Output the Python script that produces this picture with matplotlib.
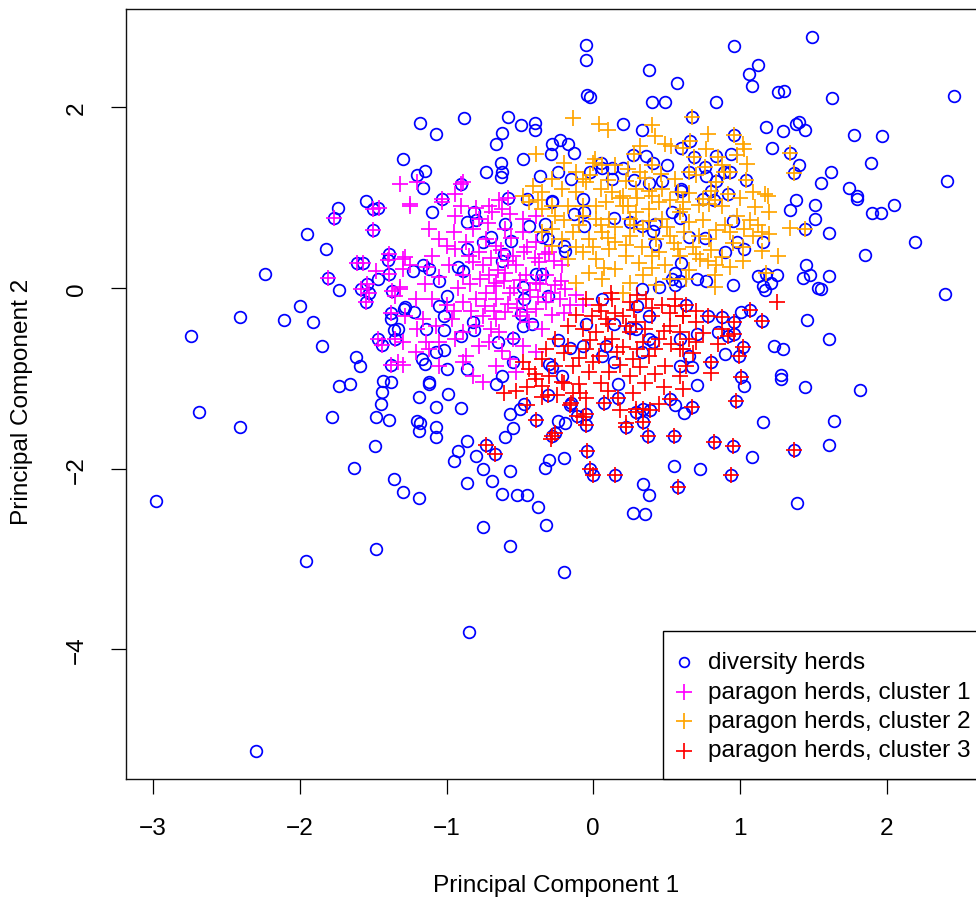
import matplotlib
matplotlib.use("Agg")
import matplotlib.pyplot as plt
from matplotlib.lines import Line2D
from matplotlib.patches import Rectangle

plt.rcParams['font.family'] = ['Liberation Sans', 'DejaVu Sans']

# ---- diversity herds (PC1, PC2) ----
div_pts = [
    (-0.05,2.69),(-0.05,2.53),(1.49,2.78),(0.96,2.68),(0.38,2.42),(1.12,2.47),(1.06,2.37),(1.08,2.24),
    (0.57,2.27),(1.26,2.17),(1.30,2.18),(1.63,2.10),(2.46,2.13),(-0.04,2.14),(-0.02,2.11),(0.40,2.06),
    (0.49,2.06),(0.84,2.06),(-1.18,1.83),(-1.07,1.71),(-0.88,1.88),(-0.58,1.89),(-0.62,1.72),(-0.49,1.81),
    (-0.40,1.83),(-0.40,1.75),(-0.66,1.59),(0.20,1.82),(0.33,1.75),(-0.28,1.59),(-0.23,1.64),(-0.17,1.59),
    (-0.13,1.50),(-0.29,1.48),(-0.48,1.43),(-0.63,1.38),(-0.62,1.29),(-0.63,1.23),(-0.73,1.28),(-0.36,1.24),
    (-0.24,1.28),(-1.30,1.43),(-1.20,1.25),(-1.15,1.30),(-1.16,1.11),(-0.90,1.15),(-1.03,0.99),(-0.58,1.00),
    (-0.45,0.99),(-0.28,0.96),(-0.15,1.21),(-0.02,1.29),(0.05,1.38),(0.06,1.33),(0.13,1.33),(0.13,1.21),
    (0.20,1.33),(0.27,1.47),(0.36,1.46),(0.41,1.38),(0.50,1.36),(0.28,1.20),(0.38,1.16),(0.47,1.19),
    (0.60,1.55),(0.60,1.07),(-0.07,0.99),
    (-1.74,0.89),(-1.55,0.96),(-1.47,0.89),(-1.77,0.77),(-1.50,0.87),(-1.95,0.60),(-1.50,0.64),(-1.82,0.43),
    (-2.24,0.15),(-1.81,0.11),(-1.73,-0.02),(-1.61,0.28),(-1.57,0.28),(-1.39,0.38),(-1.40,0.31),(-1.47,0.10),
    (-1.54,0.04),(-1.58,-0.01),(-1.53,-0.05),(-1.55,-0.16),(-1.39,0.15),(-1.37,-0.03),(-2.00,-0.20),
    (-2.41,-0.32),(-2.11,-0.35),(-1.91,-0.38),(-2.74,-0.53),(-1.85,-0.64),(-1.38,-0.28),(-1.38,-0.34),
    (-1.36,-0.46),(-1.47,-0.56),(-1.44,-0.63),(-1.35,-0.56),(-1.29,-0.23),(-1.62,-0.76),(-1.59,-0.86),
    (-1.38,-0.85),(-1.73,-1.08),(-1.66,-1.06),(-1.43,-1.03),(-1.38,-1.04),(-1.44,-1.15),(-1.45,-1.28),
    (-2.69,-1.37),(-2.41,-1.54),(-1.78,-1.43),(-1.48,-1.43),(-1.39,-1.46),(-1.49,-1.75),(-1.63,-1.99),
    (-1.36,-2.12),(-1.30,-2.26),(-2.98,-2.36),(-1.48,-2.89),(-1.96,-3.02),(-0.20,-3.14),(-0.85,-3.81),
    (-2.30,-5.13),
    (-1.12,-1.06),(-1.19,-1.21),(-0.99,-1.17),(-1.07,-1.32),(-0.90,-1.33),(-1.20,-1.47),(-1.18,-1.49),
    (-1.19,-1.58),(-1.07,-1.54),(-1.07,-1.65),(-0.57,-1.39),(-0.55,-1.55),(-0.60,-1.65),(-0.86,-1.69),
    (-0.92,-1.81),(-0.95,-1.92),(-0.80,-1.86),(-0.75,-2.00),(-0.57,-2.03),(-0.86,-2.16),(-0.69,-2.14),
    (-0.62,-2.28),(-0.52,-2.29),(-0.45,-2.29),(-0.38,-2.42),(-1.19,-2.33),(-0.75,-2.65),(-0.32,-2.62),
    (-0.57,-2.86),(-0.30,-1.90),(-0.33,-1.99),(-0.20,-1.88),(-0.24,-1.47),(-0.19,-1.50),(-0.47,-1.28),
    (-0.50,-1.34),(0.55,-1.97),(0.34,-2.17),(0.38,-2.29),(0.27,-2.49),(0.35,-2.50),
    (0.71,-1.07),(1.03,-1.09),(1.28,-1.01),(1.44,-1.10),(1.82,-1.13),(0.56,-1.30),(0.62,-1.38),(1.16,-1.48),
    (1.64,-1.47),(1.61,-1.74),(1.08,-1.87),(0.73,-2.00),(1.39,-2.38),
    (1.38,0.97),(1.51,0.92),(1.80,0.99),(1.90,0.83),(1.96,0.83),(2.05,0.92),(1.34,0.86),(1.51,0.76),
    (1.61,0.61),(2.19,0.51),(1.85,0.37),(1.45,0.26),(1.43,0.11),(1.48,0.14),(1.61,0.13),(1.53,0.00),
    (1.55,-0.01),(2.40,-0.07),(1.46,-0.35),(1.61,-0.56),(1.23,-0.64),(1.29,-0.67),(1.28,-0.96),(0.65,0.57),
    (0.76,0.55),(0.95,0.74),(0.98,0.51),(1.03,0.43),(0.90,0.40),(1.16,0.51),(1.12,0.13),(1.18,0.15),
    (1.25,0.14),(1.16,0.02),(1.17,-0.02),(1.21,0.06),(0.95,0.03),(0.71,0.10),(0.77,0.08),(0.60,0.28),
    (0.56,0.03),(1.01,-0.27),(0.85,-0.49),(0.90,-0.73),(0.65,-0.75),(0.67,-0.88),(0.71,-0.51),(1.44,0.65),
    (0.67,1.89),(0.66,1.63),(0.96,1.69),(0.69,1.45),(0.84,1.46),(0.94,1.48),(0.76,1.34),(0.89,1.28),
    (0.93,1.28),(0.65,1.29),(0.77,1.24),(1.04,1.20),(0.84,1.19),(0.60,1.10),(0.80,1.08),(0.92,1.04),
    (0.75,0.99),(0.82,0.97),(1.18,1.78),(1.29,1.74),(1.38,1.82),(1.40,1.84),(1.44,1.75),(1.78,1.69),
    (1.97,1.68),(1.22,1.55),(1.34,1.50),(1.40,1.36),(1.37,1.27),(1.62,1.28),(1.89,1.39),(2.41,1.19),
    (1.55,1.16),(1.74,1.11),(1.80,1.02),
    (-1.10,0.84),(-0.81,0.84),(-0.86,0.73),(-0.80,0.75),(-0.70,0.56),(-0.75,0.51),(-0.60,0.71),(-0.44,0.69),
    (-0.56,0.52),(-0.86,0.43),(-1.23,0.19),(-1.16,0.25),(-1.12,0.21),(-1.05,0.08),(-0.92,0.23),(-0.89,0.19),
    (-0.61,0.38),(-0.62,0.30),(-0.39,0.16),(-0.35,0.16),(-0.48,0.01),(-0.47,-0.12),(-0.31,-0.09),
    (-1.00,-0.09),(-1.05,-0.20),(-1.02,-0.31),(-1.28,-0.21),(-1.22,-0.27),(-1.33,-0.45),(-1.14,-0.45),
    (-1.02,-0.47),(-0.82,-0.38),(-0.81,-0.47),(-0.90,-0.53),(-0.65,-0.60),(-0.55,-0.55),(-0.49,-0.29),
    (-0.42,-0.40),(-0.48,-0.42),(-1.17,-0.79),(-1.15,-0.84),(-1.07,-0.71),(-1.02,-0.69),(-1.00,-0.90),
    (-0.86,-0.90),(-1.12,-1.04),(-0.62,-0.97),(-0.66,-1.06),(-0.55,-0.82),(-0.24,-0.58),(-0.16,-0.66),
    (-0.07,-0.64),(-0.30,-0.84),(-0.28,-0.88),(-0.21,-0.97),(-0.05,-0.40),(0.06,-0.12),(0.14,-0.40),
    (0.09,-0.64),(0.06,-0.75),(0.14,-0.82),(0.17,-1.06),(0.30,-0.20),(0.38,-0.31),(0.25,-0.44),(0.29,-0.45),
    (0.38,-0.56),(0.41,-0.60),(0.33,-0.71),(0.59,-0.56),(0.59,-0.86),(-0.06,0.84),(-0.13,0.82),(-0.06,0.69),
    (-0.33,0.71),(-0.28,0.95),(0.25,0.73),(0.33,0.69),(0.41,0.63),(0.42,0.71),(0.42,0.49),(0.54,0.84),
    (0.59,0.78),(0.56,0.17),(0.54,0.10),(0.59,0.08),(0.33,-0.01),(0.45,0.01),(0.14,0.78),(-0.20,0.47),
    (-0.19,0.41),(-0.35,0.56),(-0.31,0.54),
    (-0.73,-1.74),(-0.67,-1.84),(-0.39,-1.46),(-0.26,-1.60),(-0.28,-1.64),(-0.04,-1.81),(-0.02,-2.00),
    (0.00,-2.07),(0.15,-2.07),(-0.05,-1.52),(-0.05,-1.39),(-0.11,-1.42),(-0.15,-1.27),(-0.16,-1.30),
    (-0.31,-1.19),(0.07,-1.27),(0.17,-1.22),(0.22,-1.54),(0.29,-1.37),(0.34,-1.34),(0.39,-1.35),(0.34,-1.48),
    (0.37,-1.64),(0.55,-1.64),(0.52,-1.23),(0.58,-2.20),(0.97,-1.25),(0.82,-1.70),(0.95,-1.75),(1.37,-1.79),
    (0.94,-2.07),(0.67,-1.32),(0.63,-0.19),(0.78,-0.31),(0.88,-0.32),(0.96,-0.38),(1.07,-0.24),(1.15,-0.36),
    (0.92,-0.53),(0.96,-0.51),(1.02,-0.65),(0.99,-0.75),(0.80,-0.82),(1.01,-0.99),
]

# ---- paragon herds, cluster 1 ----
c1_pts = [
    (-1.32,1.15),(-1.46,0.89),(-1.77,0.77),(-1.50,0.87),(-1.50,0.64),(-1.81,0.11),(-1.61,0.28),(-1.57,0.28),
    (-1.39,0.38),(-1.40,0.31),(-1.54,0.04),(-1.58,-0.01),(-1.53,-0.05),(-1.55,-0.16),(-1.39,0.15),
    (-1.37,-0.03),(-1.32,0.01),(-1.35,-0.09),(-1.48,0.19),(-1.30,0.32),(-1.30,0.21),(-1.38,-0.28),
    (-1.47,-0.56),(-1.44,-0.63),(-1.35,-0.56),(-1.38,-0.85),(-1.30,-0.85),(-0.90,1.15),(-1.03,0.99),
    (-0.58,1.00),(-1.20,1.17),(-0.89,1.17),(-0.94,1.04),(-1.25,0.93),(-0.71,0.91),
    (-1.25,0.91),(-1.03,0.95),(-0.94,0.80),(-0.82,0.65),(-0.78,0.76),(-0.69,0.84),(-0.60,0.65),(-0.48,0.62),
    (-0.39,0.51),(-0.30,0.40),(-1.05,0.54),(-1.00,0.47),(-0.94,0.43),(-1.12,0.65),(-1.28,0.34),(-1.25,0.25),
    (-1.13,0.23),(-1.05,0.12),(-0.98,0.25),(-0.89,0.14),(-0.82,0.29),(-0.75,0.25),(-0.71,0.14),(-0.66,0.06),
    (-0.60,0.17),(-0.53,0.25),(-0.46,0.14),(-0.39,0.06),(-0.32,0.14),(-0.26,0.03),(-0.19,-0.01),
    (-0.12,-0.08),(-0.07,-0.19),(-1.32,-0.01),(-1.21,-0.12),(-1.10,-0.12),(-1.00,-0.19),(-0.89,-0.16),
    (-0.80,-0.12),(-0.73,-0.05),(-0.66,-0.12),(-0.57,-0.05),(-0.48,-0.12),(-0.39,-0.23),(-0.32,-0.16),
    (-0.23,-0.12),(-0.16,-0.19),(-1.28,-0.31),(-1.16,-0.34),(-1.07,-0.42),(-0.96,-0.34),(-0.89,-0.49),
    (-0.80,-0.42),(-0.75,-0.31),(-0.66,-0.34),(-0.60,-0.27),(-0.50,-0.31),(-0.44,-0.38),(-0.35,-0.45),
    (-1.30,-0.60),(-1.21,-0.71),(-1.12,-0.67),(-1.05,-0.60),(-0.94,-0.56),(-0.87,-0.75),(-0.78,-0.64),
    (-0.71,-0.60),(-0.64,-0.49),(-0.55,-0.56),(-0.48,-0.64),(-0.39,-0.71),(-0.89,-0.82),(-0.82,-0.97),
    (-0.75,-1.04),(-0.66,-0.86),(-0.57,-0.79),(-0.53,-0.93),(-1.05,-0.86),(-1.33,-0.82),(-1.14,-0.60),
    (-0.90,0.91),(-0.80,0.89),(-0.64,0.97),(-0.57,0.82),(-0.66,0.47),(-0.73,0.54),(-0.87,0.51),
    (-0.39,0.80),(-0.48,0.76),(-0.21,0.25),(-0.37,0.29),
    (-0.85,0.35),(-0.78,0.40),(-0.70,0.33),(-0.63,0.42),(-0.55,0.35),(-0.47,0.40),(-0.40,0.33),(-0.33,0.38),
    (-0.27,0.30),(-0.84,0.05),(-0.77,0.10),(-0.68,0.02),(-0.61,0.08),(-0.54,0.00),(-0.50,0.09),(-0.43,-0.02),
    (-0.36,0.04),(-0.29,-0.06),(-0.22,0.08),(-0.83,-0.25),(-0.74,-0.20),(-0.68,-0.25),(-0.58,-0.18),
    (-0.52,-0.22),(-0.45,-0.27),(-0.38,-0.10),(-0.28,-0.30),(-0.20,-0.28),(-0.92,0.00),(-0.95,-0.25),
    (-1.15,0.05),(-1.20,-0.45),(-1.10,0.35),(-0.65,0.20),(-0.58,0.30),(-0.70,-0.45),(-0.62,-0.70),
    (-0.56,0.55),(-0.45,0.45),(-0.95,0.62),(-0.72,0.72),(-0.62,0.88),
]

# ---- paragon herds, cluster 2 ----
c2_pts = [
    (-0.14,1.88),(0.04,1.82),(0.10,1.75),(0.40,1.81),(0.42,1.68),(0.32,1.57),(0.49,1.60),(0.53,1.57),
    (-0.39,1.48),(-0.20,1.39),(0.01,1.43),(0.28,1.48),(0.00,1.39),(0.06,1.36),(0.15,1.36),(0.24,1.32),
    (0.32,1.28),(0.40,1.36),(-0.12,1.28),(-0.07,1.21),(-0.02,1.25),(-0.28,1.21),(-0.41,1.13),(-0.35,1.06),
    (-0.21,1.10),(-0.12,1.06),(-0.05,1.17),(0.05,1.10),(0.13,1.06),(0.20,1.02),(0.29,1.10),(0.38,1.08),
    (0.47,1.10),(0.58,1.06),(0.56,1.21),(-0.48,1.02),(-0.38,0.97),(-0.28,0.91),(-0.07,0.91),(0.09,0.95),
    (0.24,0.91),(0.45,0.95),
    (0.67,1.89),(0.78,1.71),(0.96,1.69),(0.66,1.63),(0.61,1.55),(0.77,1.54),(1.02,1.60),(1.03,1.54),
    (0.69,1.45),(0.98,1.47),(1.05,1.37),(0.76,1.34),(0.88,1.36),(0.89,1.28),(0.93,1.28),(0.65,1.29),
    (1.04,1.20),(0.80,1.08),(0.92,1.04),(1.09,1.06),(1.17,1.04),(1.19,1.02),(0.75,0.99),(0.83,0.97),
    (0.61,0.95),(1.34,1.50),(1.37,1.27),(0.84,1.17),(0.70,1.25),
    (1.20,0.84),(1.07,0.75),(1.03,0.65),(1.34,0.67),(1.26,0.36),(1.44,0.65),(1.15,0.62),(1.20,0.60),
    (0.93,0.23),(0.84,0.25),(1.02,0.30),(0.73,0.32),(0.78,0.30),(0.63,0.10),(0.83,0.14),(0.79,0.93),
    (0.88,0.91),(0.61,0.87),(0.65,0.73),(0.84,0.64),(0.79,0.54),(0.93,0.62),(1.02,0.45),(1.09,0.58),
    (1.18,0.17),(0.83,0.01),(0.58,0.43),(0.70,0.38),(0.88,0.34),(1.15,0.41),
    (-0.44,0.95),(-0.35,0.88),(-0.26,0.80),(-0.17,0.91),(-0.07,0.80),(0.02,0.91),(0.11,0.76),(0.20,0.91),
    (0.29,0.84),(0.38,0.88),(0.47,0.76),(0.59,0.84),(-0.28,0.65),(-0.21,0.54),(-0.14,0.62),(-0.03,0.54),
    (0.06,0.62),(0.15,0.51),(0.25,0.58),(0.34,0.65),(0.43,0.54),(0.52,0.58),(-0.07,0.40),(0.02,0.32),
    (0.11,0.43),(0.22,0.36),(0.31,0.28),(0.40,0.36),(0.49,0.25),(0.59,0.36),(-0.03,0.17),(0.06,0.10),
    (0.15,0.21),(0.25,0.06),(0.34,0.14),(0.43,0.03),(0.52,0.10),(-0.12,0.06),(0.20,-0.05),(-0.28,0.47),
    (-0.17,0.32),(0.02,0.76),(0.25,0.76),
    (0.10,1.20),(0.22,1.18),(0.35,1.22),(0.46,1.26),(0.18,1.00),(0.30,1.00),(0.40,1.02),(0.52,0.98),
    (0.65,1.05),(0.72,0.92),(0.05,0.70),(0.15,0.68),(0.28,0.70),(0.38,0.74),(0.50,0.68),(0.62,0.62),
    (0.72,0.58),(0.90,0.70),(0.98,0.80),(1.10,0.90),(0.00,0.45),(0.10,0.55),(0.22,0.48),(0.33,0.45),
    (0.45,0.40),(0.55,0.50),(0.68,0.45),(0.80,0.42),(0.95,0.50),(1.12,0.70),(-0.10,0.70),(-0.20,0.75),
    (-0.35,0.62),(-0.12,0.45),(0.07,0.22),(0.40,0.22),(0.65,0.20),(0.75,0.75),(1.00,1.00),(0.85,1.45),
]

# ---- paragon herds, cluster 3 ----
c3_pts = [
    (-0.73,-1.74),(-0.67,-1.84),(-0.39,-1.46),(-0.26,-1.60),(-0.28,-1.64),(-0.04,-1.81),(-0.02,-2.00),
    (0.00,-2.07),(0.15,-2.07),(-0.05,-1.52),(-0.05,-1.39),(-0.11,-1.42),(-0.15,-1.27),(-0.16,-1.30),
    (-0.31,-1.19),(0.07,-1.27),(0.17,-1.22),(0.22,-1.54),(0.29,-1.37),(0.34,-1.34),(0.39,-1.35),(0.34,-1.48),
    (0.37,-1.64),(0.55,-1.64),(0.52,-1.23),(0.58,-2.20),(0.97,-1.25),(0.82,-1.70),(0.95,-1.75),(1.37,-1.79),
    (0.94,-2.07),(0.67,-1.32),(0.63,-0.19),(0.78,-0.31),(0.88,-0.32),(0.96,-0.38),(1.07,-0.24),(1.15,-0.36),
    (0.92,-0.53),(0.96,-0.51),(1.02,-0.65),(0.99,-0.75),(0.80,-0.82),(1.01,-0.99),
    (1.25,-0.15),(0.80,-0.94),
    (-0.61,-1.16),(-0.53,-1.14),(-0.45,-1.10),(-0.35,-1.08),(-0.35,-1.21),(-0.20,-1.05),(-0.14,-1.16),
    (-0.09,-1.16),(0.10,-1.14),(0.27,-1.16),(0.61,-1.12),(-0.29,-1.67),(0.22,-1.49),(-0.07,-1.43),
    (-0.45,-1.30),(0.29,-1.34),
    (-0.05,-0.12),(0.04,-0.19),(0.13,-0.12),(0.25,-0.16),(0.36,-0.12),(0.47,-0.19),(0.56,-0.12),(0.61,-0.31),
    (-0.01,-0.31),(0.09,-0.34),(0.20,-0.31),(0.29,-0.38),(0.40,-0.31),(0.52,-0.42),(-0.07,-0.45),(0.02,-0.49),
    (0.13,-0.56),(0.25,-0.49),(0.34,-0.60),(0.45,-0.56),(0.59,-0.68),(-0.17,-0.42),(-0.26,-0.56),(-0.17,-0.64),
    (-0.05,-0.68),(0.04,-0.75),(0.16,-0.71),(0.27,-0.79),(0.38,-0.75),(0.49,-0.86),(-0.35,-0.79),(-0.26,-0.86),
    (-0.14,-0.86),(-0.03,-0.93),(0.11,-0.93),(0.25,-0.97),(-0.44,-0.90),(-0.39,-1.01),(-0.30,-0.97),
    (-0.21,-1.04),(-0.10,-1.06),(0.59,-0.97),(-0.48,-0.82),
    (0.56,-0.20),(0.61,-0.31),(0.70,-0.38),(0.59,-0.49),(0.65,-0.56),(0.61,-0.68),(0.63,-0.86),(0.70,-0.60),
    (0.05,-0.25),(0.15,-0.28),(0.28,-0.24),(0.40,-0.22),(0.52,-0.28),(0.10,-0.40),(0.22,-0.42),(0.35,-0.45),
    (0.48,-0.48),(-0.12,-0.30),(-0.02,-0.58),(0.08,-0.62),(0.20,-0.65),(0.30,-0.68),(0.42,-0.68),(0.53,-0.62),
    (-0.10,-0.78),(0.00,-0.82),(0.18,-0.85),(0.32,-0.88),(0.42,-0.95),(-0.20,-0.72),(-0.32,-0.68),
    (-0.40,-0.95),(-0.25,-1.18),(0.05,-1.05),(0.35,-1.05),(0.48,-1.10),(0.70,-0.25),(0.75,-0.50),
    (0.68,-0.72),(0.85,-0.62),(0.88,-0.45),(0.18,-1.35),(-0.05,-1.22),(0.45,-1.28),(0.12,-0.05),(0.30,-0.08),
]

div_x = [p[0] for p in div_pts]
div_y = [p[1] for p in div_pts]
c1_x = [p[0] for p in c1_pts]
c1_y = [p[1] for p in c1_pts]
c2_x = [p[0] for p in c2_pts]
c2_y = [p[1] for p in c2_pts]
c3_x = [p[0] for p in c3_pts]
c3_y = [p[1] for p in c3_pts]

x_ticks = [-3, -2, -1, 0, 1, 2]
y_ticks = [-4, -2, 0, 2]
legend_labels = ["diversity herds", "paragon herds, cluster 1",
                 "paragon herds, cluster 2", "paragon herds, cluster 3"]

BLUE, MAGENTA, ORANGE, RED = "#0000FF", "#FF00FF", "#FFA500", "#FF0000"
FS = 17.6
W, H = 976, 903

fig = plt.figure(figsize=(W / 100, H / 100), dpi=100)
ax = fig.add_axes([126 / W, 123 / H, 860 / W, 770 / H])

circle_kw = dict(linestyle="none", marker="o", markersize=8.4, markerfacecolor="none",
                 markeredgewidth=1.25)
plus_kw = dict(linestyle="none", marker="+", markersize=12, markeredgewidth=1.25)

ax.plot(div_x, div_y, color=BLUE, **circle_kw)
ax.plot(c1_x, c1_y, color=MAGENTA, **plus_kw)
ax.plot(c2_x, c2_y, color=ORANGE, **plus_kw)
ax.plot(c3_x, c3_y, color=RED, **plus_kw)

ax.set_xlim(-3.185, 2.677)
ax.set_ylim(-5.437, 3.090)
ax.set_xticks(x_ticks)
ax.set_yticks(y_ticks)
ax.set_xticklabels([f"{t}".replace("-", "\u2212") for t in x_ticks], fontsize=FS)
ax.set_yticklabels([f"{t}".replace("-", "\u2212") for t in y_ticks], fontsize=FS,
                   rotation=90, va="center")
ax.tick_params(direction="out", length=10.5, width=0.9, color="black", pad=17)
for s in ax.spines.values():
    s.set_linewidth(1.0)
    s.set_color("#111111")

ax.set_xlabel("Principal Component 1", fontsize=FS)
ax.xaxis.set_label_coords(556 / W, 1 - 886 / H, transform=fig.transFigure)
ax.xaxis.label.set_va("center")
ax.set_ylabel("Principal Component 2", fontsize=FS)
ax.yaxis.set_label_coords(22 / W, 1 - 402 / H, transform=fig.transFigure)
ax.yaxis.label.set_va("center")

# legend box in the lower-right corner of the plot region
box_left, box_top = 662.7, 632.3
fig.patches.append(Rectangle((box_left / W, 1 - 780 / H), (1100 - box_left) / W,
                             (780 - box_top) / H, transform=fig.transFigure,
                             facecolor="white", edgecolor="black", linewidth=1.0,
                             zorder=5))
rows = [663, 692.5, 722, 751.5]
styles = [(BLUE, circle_kw), (MAGENTA, plus_kw), (ORANGE, plus_kw), (RED, plus_kw)]
for py, lab, (col, kw) in zip(rows, legend_labels, styles):
    kw2 = dict(kw)
    if kw2["marker"] == "o":
        kw2["markersize"] = 7.0
    fig.add_artist(Line2D([684 / W], [1 - py / H], color=col, transform=fig.transFigure,
                          zorder=6, **kw2))
    fig.text(707.5 / W, 1 - py / H, lab, fontsize=FS, va="center", ha="left", zorder=6)

fig.savefig("out.png", dpi=100)
